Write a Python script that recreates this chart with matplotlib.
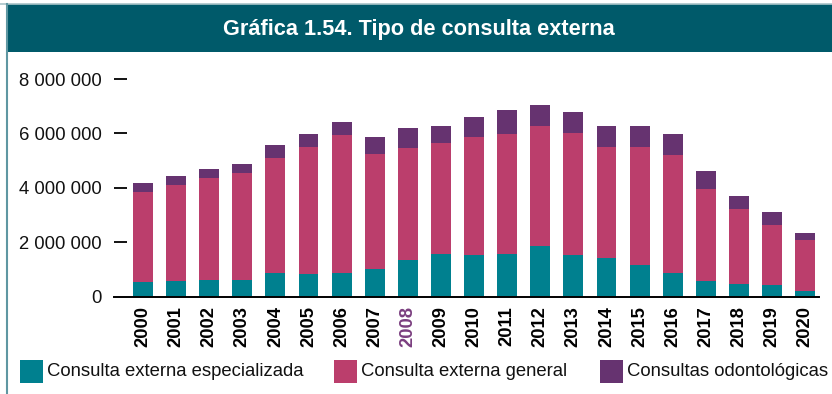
import matplotlib
matplotlib.use("Agg")
import matplotlib.pyplot as plt
from matplotlib.patches import Rectangle
from matplotlib.lines import Line2D
import numpy as np

plt.rcParams['font.family'] = ['Liberation Sans', 'DejaVu Sans']

# Data: outpatient consultations by type, 2000-2020
years = [str(y) for y in range(2000, 2021)]
especializada = [540000, 570000, 610000, 610000, 860000, 830000, 860000, 1010000,
                 1340000, 1560000, 1530000, 1560000, 1860000, 1530000, 1420000,
                 1160000, 860000, 570000, 460000, 420000, 200000]
general = [3300000, 3530000, 3750000, 3930000, 4230000, 4670000, 5080000, 4230000,
           4120000, 4080000, 4330000, 4410000, 4410000, 4480000, 4080000,
           4340000, 4340000, 3380000, 2760000, 2210000, 1880000]
odontologicas = [330000, 330000, 330000, 330000, 480000, 470000, 480000, 620000,
                 730000, 630000, 740000, 890000, 770000, 770000, 770000,
                 770000, 770000, 660000, 470000, 480000, 250000]
series_names = ["Consulta externa especializada", "Consulta externa general",
                "Consultas odontológicas"]
y_ticks = [0, 2000000, 4000000, 6000000, 8000000]
title = "Gráfica 1.54. Tipo de consulta externa"

c_esp = "#00808f"
c_gen = "#bb3e6c"
c_odo = "#663370"
c_band = "#005a6a"
c_hl = "#7b3f80"

W, H = 832, 394
fig = plt.figure(figsize=(W / 100, H / 100), dpi=100)

def fx(px):
    return px / W

def fy(py):
    return 1 - py / H

# Header band and frame lines
fig.patches.append(Rectangle((fx(6), fy(52)), fx(826), (48) / H, transform=fig.transFigure,
                             facecolor=c_band, edgecolor='none', zorder=0))
fig.lines.append(Line2D([fx(0), 1], [fy(3.5), fy(3.5)], transform=fig.transFigure,
                        color="#a9c4c8", lw=1.2))
fig.lines.append(Line2D([fx(6.5), fx(6.5)], [0, fy(3.5)], transform=fig.transFigure,
                        color="#5f97a2", lw=1.5))
fig.text(fx(419), fy(29), title, ha='center', va='center', color='white',
         fontsize=15.7, fontweight='bold')

ax = fig.add_axes([fx(114), fy(296.5), fx(819 - 114), (296.5 - 79) / H])
x = np.arange(len(years))
w = 0.6
ax.bar(x, especializada, w, color=c_esp, zorder=2)
ax.bar(x, general, w, bottom=especializada, color=c_gen, zorder=2)
bottom2 = np.array(especializada) + np.array(general)
ax.bar(x, odontologicas, w, bottom=bottom2, color=c_odo, zorder=2)

ax.set_xlim(-0.876, len(years) - 1 + 0.42)
ax.set_ylim(0, 8000000)

for s in ['top', 'right', 'left']:
    ax.spines[s].set_visible(False)
ax.spines['bottom'].set_linewidth(1.4)
ax.spines['bottom'].set_color('black')
ax.spines['bottom'].set_zorder(3)

ax.set_yticks(y_ticks)
ax.set_yticklabels([f"{v:,}".replace(",", " ") for v in y_ticks], fontsize=13.3,
                   color='#111111')
ax.tick_params(axis='y', direction='in', length=9, width=1.3, pad=8.6, colors='black')
for lbl in ax.get_yticklabels():
    lbl.set_color('#111111')
ax.yaxis.get_major_ticks()[0].tick1line.set_visible(False)

ax.set_xticks(x)
ax.set_xticklabels(years, rotation=90, fontsize=13.2, fontweight='bold')
ax.tick_params(axis='x', length=0, pad=7)
for lbl in ax.get_xticklabels():
    if lbl.get_text() == "2008":
        lbl.set_color(c_hl)

# Legend
leg_items = [(20, series_names[0], c_esp), (334, series_names[1], c_gen),
             (600, series_names[2], c_odo)]
for px, name, col in leg_items:
    fig.patches.append(Rectangle((fx(px), fy(383)), fx(23), 23 / H,
                                 transform=fig.transFigure, facecolor=col,
                                 edgecolor='none'))
    fig.text(fx(px + 27), fy(372), name, ha='left', va='center', fontsize=13.3,
             color='#111111')

fig.savefig("out.png", dpi=100)
